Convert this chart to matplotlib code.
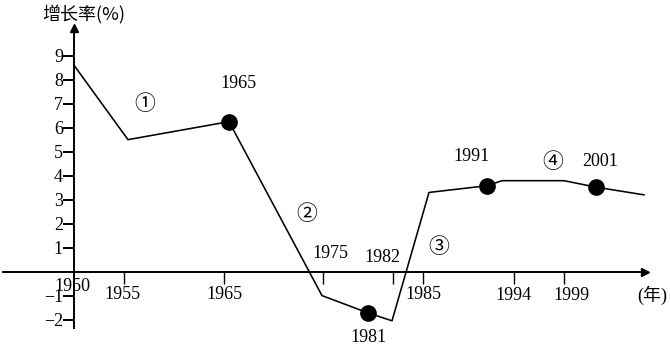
import matplotlib
matplotlib.use("Agg")
import matplotlib.pyplot as plt

# schematic x positions along the axis (the axis is not to scale in years)
tick_years = ["1955", "1965", "1975", "1982", "1985", "1994", "1999"]
tick_pos = [50, 150, 249, 319, 349, 440, 490]

# growth-rate polyline (x = schematic position, y = %)
line_x = [0, 54, 155, 248, 294, 318, 355, 413, 428, 490, 522, 570]
line_y = [8.6, 5.5, 6.25, -1.0, -1.72, -2.05, 3.3, 3.58, 3.79, 3.79, 3.52, 3.2]

# highlighted years on the line
dot_years = ["1965", "1981", "1991", "2001"]
dot_idx = [2, 4, 7, 10]

y_ticks = [-2, -1, 1, 2, 3, 4, 5, 6, 7, 8, 9]

SERIF = ["Liberation Serif", "Noto Sans CJK SC", "DejaVu Sans"]
CJK = ["Noto Sans CJK SC", "DejaVu Sans"]

fig = plt.figure(figsize=(6.7, 3.52), dpi=100)
ax = fig.add_axes([0, 0, 1, 1])
ax.set_xlim(-74, 596)
ax.set_ylim(-3.35, 11.32)

for s in ["top", "right"]:
    ax.spines[s].set_visible(False)
ax.spines["left"].set_position(("data", 0))
ax.spines["bottom"].set_position(("data", 0))
ax.spines["left"].set_bounds(-2.35, 10.1)
ax.spines["bottom"].set_bounds(-71, 568)
for s in ["left", "bottom"]:
    ax.spines[s].set_linewidth(1.4)

# arrow heads
ax.plot([0], [10.15], marker="^", color="black", markersize=6, clip_on=False)
ax.plot([571], [0], marker=">", color="black", markersize=6, clip_on=False)

ax.set_yticks(y_ticks)
ax.set_yticklabels(["\u2212" + str(-v) if v < 0 else str(v) for v in y_ticks],
                   fontfamily=SERIF, fontsize=13)
ax.tick_params(axis="y", direction="out", length=8, width=1.4, pad=0)

ax.set_xticks(tick_pos)
ax.set_xticklabels([])
ax.tick_params(axis="x", direction="out", length=8.5, width=1.0)

ax.plot(line_x, line_y, color="black", lw=1.15)
ax.plot([line_x[i] for i in dot_idx], [line_y[i] for i in dot_idx],
        "o", color="black", markersize=11, linestyle="none")

txt = dict(fontfamily=SERIF, fontsize=13, ha="center", va="center")

# year labels on the axis
axis_label_xy = [(48, -0.97), (150, -0.97), (256, 0.74), (308, 0.57),
                 (349, -0.97), (439, -1.0), (497, -1.0)]
ax.text(-2, -0.64, "1950", **txt)
for lab, (x, y) in zip(tick_years, axis_label_xy):
    ax.text(x, y, lab, **txt)
ax.text(578, -0.97, "(年)", **txt)

# labels of highlighted points
dot_label_xy = [(164, 7.86), (294, -2.76), (398, 4.78), (526, 4.61)]
for lab, (x, y) in zip(dot_years, dot_label_xy):
    ax.text(x, y, lab, **txt)

# stage markers
stages = ["\u2460", "\u2461", "\u2462", "\u2463"]
stage_xy = [(71, 6.99), (233, 2.4), (365, 1.03), (479, 4.57)]
for lab, (x, y) in zip(stages, stage_xy):
    ax.text(x, y, lab, fontfamily=CJK, fontsize=15, ha="center", va="center")

ax.text(10, 10.74, "增长率(%)", fontfamily=CJK, fontsize=13, ha="center", va="center")

fig.savefig("out.png", dpi=100)
